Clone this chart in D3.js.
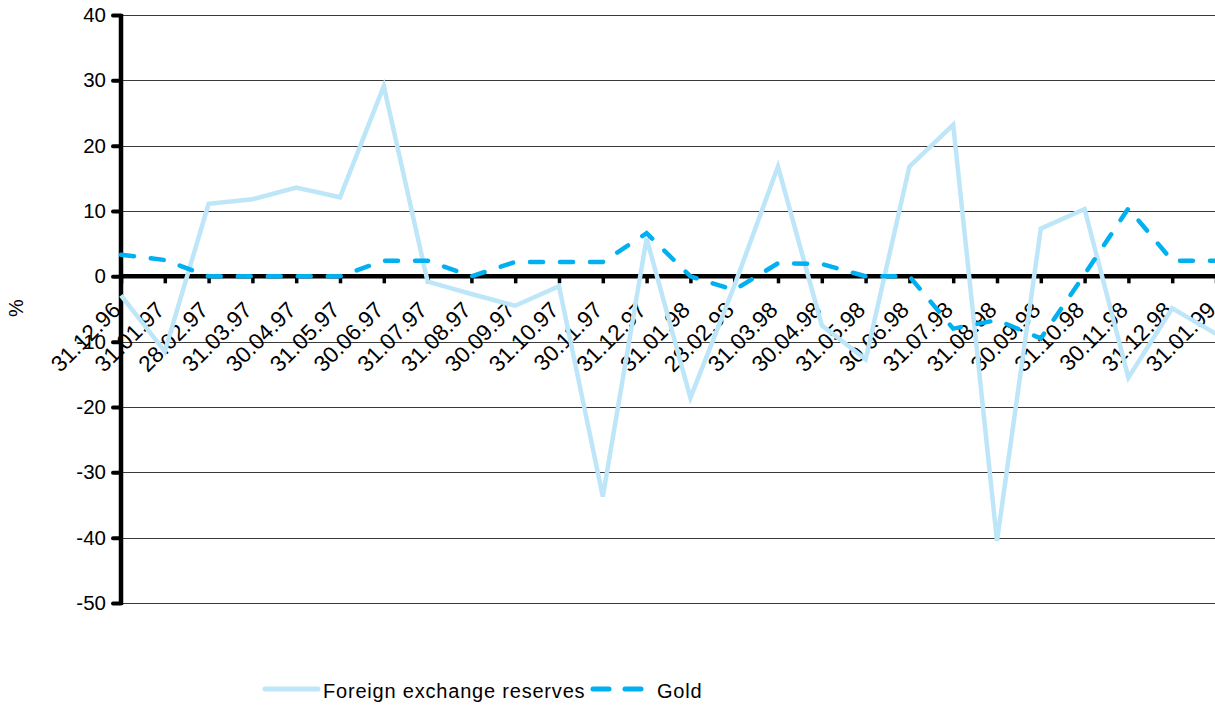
<!DOCTYPE html>
<html>
<head>
<meta charset="utf-8">
<script src="https://cdn.jsdelivr.net/npm/d3@7"></script>
<style>
  html, body { margin: 0; padding: 0; background: #fff; }
  svg { display: block; font-family: "Liberation Sans", Arial, sans-serif; }
</style>
</head>
<body>
<svg id="chart" width="1215" height="706"></svg>
<script>
const categories = ["31.12.96","31.01.97","28.02.97","31.03.97","30.04.97","31.05.97","30.06.97","31.07.97","31.08.97","30.09.97","31.10.97","30.11.97","31.12.97","31.01.98","28.02.98","31.03.98","30.04.98","31.05.98","30.06.98","31.07.98","31.08.98","30.09.98","31.10.98","30.11.98","31.12.98","31.01.99"];
const fxReserves = [-2.9,-11.5,11.1,11.8,13.6,12.1,29.1,-0.8,-2.7,-4.5,-1.5,-33.7,5.8,-18.6,-1.5,16.8,-7.5,-12.7,16.8,23.2,-40.5,7.3,10.3,-15.5,-4.9,-8.8];
const gold = [3.3,2.5,0,0,0,0,2.4,2.4,0,2.2,2.2,2.2,6.6,0,-2.1,2.0,1.9,0,0,-8.0,-6.7,-9.5,0.3,10.4,2.4,2.4];
const yTicks = [40,30,20,10,0,-10,-20,-30,-40,-50];
const seriesNames = ["Foreign exchange reserves","Gold"];
const seriesColors = ["#bde6f8","#00b0f0"];

(function () {
const svg = d3.select("#chart");
const pLeft = 121, pRight = 1216, pTop = 15, pBottom = 603;
const x = d3.scalePoint().domain(categories).range([pLeft, pRight]);
const y = d3.scaleLinear().domain([-50, 40]).range([pBottom, pTop]);

// gridlines
svg.append("g").selectAll("line").data(yTicks.filter(d => d !== 0)).join("line")
  .attr("x1", pLeft).attr("x2", 1215)
  .attr("y1", d => Math.round(y(d)) + 0.5).attr("y2", d => Math.round(y(d)) + 0.5)
  .attr("stroke", "#3a3a3a").attr("stroke-width", 1);

// y axis
const yAxis = d3.axisLeft(y).tickValues(yTicks).tickSize(8).tickPadding(6).tickFormat(d => String(d));
const gy = svg.append("g").attr("transform", `translate(${pLeft},0)`).call(yAxis);
gy.select(".domain").remove();
gy.selectAll(".tick line").attr("stroke", "#000").attr("stroke-width", 4).attr("stroke-linecap", "round");
gy.selectAll(".tick text").attr("font-size", 20.5).attr("fill", "#000")
  .attr("font-family", "Liberation Sans, Arial, sans-serif").attr("dx", "-1");
svg.append("line").attr("x1", pLeft).attr("x2", pLeft).attr("y1", pTop - 1).attr("y2", pBottom + 2)
  .attr("stroke", "#000").attr("stroke-width", 4.5);

// x axis (at zero)
const xAxis = d3.axisBottom(x).tickSize(7).tickFormat("");
const gx = svg.append("g").attr("transform", `translate(0,${y(0)})`).call(xAxis);
gx.select(".domain").remove();
gx.selectAll(".tick line").attr("stroke", "#000").attr("stroke-width", 3.5);
svg.append("line").attr("x1", pLeft).attr("x2", 1215).attr("y1", y(0)).attr("y2", y(0))
  .attr("stroke", "#000").attr("stroke-width", 4.5);

// category labels
svg.append("g").selectAll("text").data(categories).join("text")
  .attr("transform", d => `translate(${x(d) - 4.5},${y(0) + 29.5}) rotate(-45)`)
  .attr("text-anchor", "end").attr("dy", "0.35em")
  .attr("font-size", 22.5).attr("fill", "#000")
  .text(d => d);

// y label
svg.append("text").attr("transform", "translate(23,308) rotate(-90)")
  .attr("text-anchor", "middle").attr("font-size", 20).attr("fill", "#000").text("%");

// lines
const line = d3.line().x((d, i) => x(categories[i])).y(d => y(d));
svg.append("path").datum(fxReserves).attr("d", line)
  .attr("fill", "none").attr("stroke", seriesColors[0]).attr("stroke-width", 4.5)
  .attr("stroke-linejoin", "miter");
svg.append("path").datum(gold).attr("d", line)
  .attr("fill", "none").attr("stroke", seriesColors[1]).attr("stroke-width", 4.5)
  .attr("stroke-dasharray", "13,17").attr("stroke-linecap", "round");

// legend
const lg = svg.append("g");
lg.append("line").attr("x1", 265).attr("x2", 318).attr("y1", 689).attr("y2", 689)
  .attr("stroke", seriesColors[0]).attr("stroke-width", 5).attr("stroke-linecap", "round");
lg.append("text").attr("x", 323).attr("y", 698).attr("font-size", 20).attr("letter-spacing", "0.8")
  .attr("fill", "#000").text(seriesNames[0]);
lg.append("line").attr("x1", 593).attr("x2", 642).attr("y1", 689).attr("y2", 689)
  .attr("stroke", seriesColors[1]).attr("stroke-width", 5).attr("stroke-linecap", "round")
  .attr("stroke-dasharray", "16,16");
lg.append("text").attr("x", 657).attr("y", 698).attr("font-size", 20).attr("letter-spacing", "0.8")
  .attr("fill", "#000").text(seriesNames[1]);
})();
</script>
</body>
</html>
